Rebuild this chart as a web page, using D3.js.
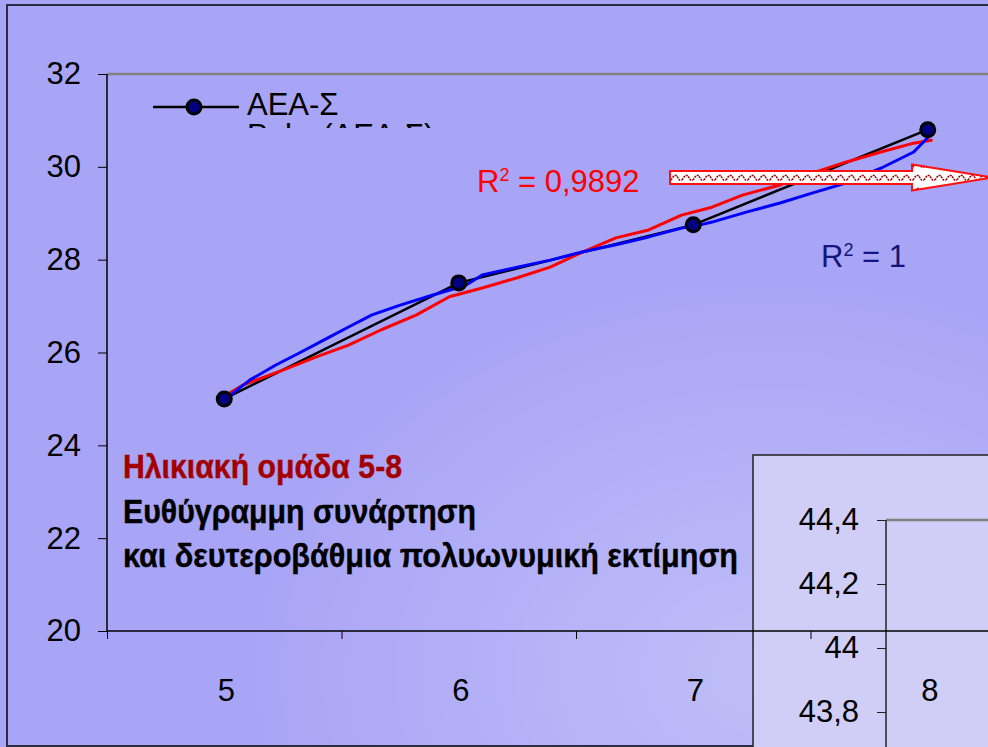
<!DOCTYPE html>
<html><head><meta charset="utf-8">
<script src="https://cdn.jsdelivr.net/npm/d3@7"></script>
<style>html,body{margin:0;padding:0;background:#aaa6f8;overflow:hidden}svg{display:block}</style>
</head><body>
<script>
// ---- data ----
const categories = ["5", "6", "7", "8"];
const aeaValues = [25.0, 27.5, 28.75, 30.8];
const yTicks = [20, 22, 24, 26, 28, 30, 32];
// quadratic polynomial trend (red): [x, y]
const polyRedX = [5.01, 5.08, 5.25, 5.39, 5.53, 5.67, 5.82, 5.96, 6.10, 6.25, 6.39, 6.53, 6.67, 6.81, 6.95, 7.08, 7.21, 7.37, 7.51, 7.65, 7.80, 7.94, 8.02];
const polyRedY = [25.09, 25.30, 25.62, 25.90, 26.16, 26.49, 26.81, 27.20, 27.39, 27.61, 27.84, 28.17, 28.47, 28.64, 28.96, 29.13, 29.39, 29.61, 29.87, 30.10, 30.32, 30.51, 30.58];
// cubic polynomial trend (blue)
const polyBlueX = [5.01, 5.11, 5.22, 5.32, 5.44, 5.53, 5.63, 5.75, 5.89, 6.03, 6.10, 6.25, 6.39, 6.53, 6.67, 6.81, 6.95, 7.03, 7.08, 7.23, 7.37, 7.51, 7.65, 7.80, 7.94, 8.01];
const polyBlueY = [25.02, 25.41, 25.73, 25.99, 26.31, 26.55, 26.81, 27.02, 27.24, 27.45, 27.67, 27.84, 27.99, 28.17, 28.32, 28.49, 28.68, 28.75, 28.81, 29.03, 29.22, 29.44, 29.65, 29.97, 30.32, 30.68];
const insetTicks = [43.8, 44.0, 44.2, 44.4];
const legendLabels = ["ΑΕΑ-Σ", "Poly. (ΑΕΑ-Σ)"];
const r2Red = "0,9892";
const r2Blue = "1";
const titleLines = ["Ηλικιακή ομάδα 5-8", "Ευθύγραμμη συνάρτηση", "και δευτεροβάθμια πολυωνυμική εκτίμηση"];

const W = 988, H = 747;
const FONT = "'Liberation Sans', Arial, sans-serif";
const svg = d3.select("body").append("svg").attr("width", W).attr("height", H);
const defs = svg.append("defs");

// background
svg.append("rect").attr("width", W).attr("height", H).attr("fill", "#a8a4f6");
const rg = defs.append("radialGradient").attr("id", "glow").attr("cx", 0.78).attr("cy", 0.9).attr("r", 0.55);
rg.append("stop").attr("offset", "0").attr("stop-color", "#ffffff").attr("stop-opacity", 0.28);
rg.append("stop").attr("offset", "1").attr("stop-color", "#ffffff").attr("stop-opacity", 0);
svg.append("rect").attr("width", W).attr("height", H).attr("fill", "url(#glow)");

// outer frame
svg.append("path").attr("d", "M1000,5 H7 V746 H1000").attr("fill", "none").attr("stroke", "#2b2b45").attr("stroke-width", 2);

// scales
const plotL = 107, plotT = 74, plotB = 631, bandW = 234.5;
const xBand = d3.scaleBand().domain(categories).range([plotL, plotL + bandW * categories.length]);
const xLin = d3.scaleLinear().domain([4.5, 8.5]).range([plotL, plotL + bandW * 4]);
const y = d3.scaleLinear().domain([20, 32]).range([plotB, plotT]);

// ---- inset panel (behind main axes) ----
const inset = svg.append("g");
inset.append("rect").attr("x", 753).attr("y", 455).attr("width", 260).attr("height", 310)
  .attr("fill", "#d0cef6").attr("stroke", "#222").attr("stroke-width", 1.5);
const yIn = d3.scaleLinear().domain([43.8, 44.4]).range([712, 520]);
inset.append("line").attr("x1", 886).attr("x2", 1000).attr("y1", 520).attr("y2", 520).attr("stroke", "#808080").attr("stroke-width", 2.5);
const insetAxis = d3.axisLeft(yIn).tickValues(insetTicks).tickSize(9).tickPadding(18)
  .tickFormat(d => d3.format(".1~f")(d).replace(".", ","));
const ia = inset.append("g").attr("transform", "translate(886,0)").call(insetAxis);
ia.select(".domain").attr("d", "M0,520 V760").attr("stroke", "#222").attr("stroke-width", 1.5);
ia.selectAll(".tick line").attr("stroke", "#222");
ia.selectAll("text").attr("font-family", FONT).attr("font-size", 31).attr("fill", "#000");

// ---- main axes ----
svg.append("line").attr("x1", plotL).attr("x2", 1000).attr("y1", plotT).attr("y2", plotT).attr("stroke", "#808080").attr("stroke-width", 2.5);
const yAxis = d3.axisLeft(y).tickValues(yTicks).tickSize(9).tickPadding(17).tickFormat(d3.format("d"));
const ya = svg.append("g").attr("transform", `translate(${plotL},0)`).call(yAxis);
ya.select(".domain").attr("d", `M0,${plotT} V${plotB}`).attr("stroke", "#000").attr("stroke-width", 1.5);
ya.selectAll(".tick line").attr("stroke", "#000");
ya.selectAll("text").attr("font-family", FONT).attr("font-size", 31).attr("fill", "#000");

const xTickAxis = d3.axisBottom(xLin).tickValues([4.5, 5.5, 6.5, 7.5, 8.5]).tickSize(8).tickFormat("");
const xa = svg.append("g").attr("transform", `translate(0,${plotB})`).call(xTickAxis);
xa.select(".domain").attr("d", `M${plotL},0 H1000`).attr("stroke", "#000").attr("stroke-width", 1.5);
xa.selectAll(".tick line").attr("stroke", "#000");
const xLabAxis = d3.axisBottom(xBand).tickSize(0).tickPadding(48);
const xl = svg.append("g").attr("transform", `translate(2,${plotB})`).call(xLabAxis);
xl.select(".domain").remove();
xl.selectAll("text").attr("font-family", FONT).attr("font-size", 31).attr("fill", "#000");

// ---- series ----
const lineGen = d3.line().x(d => xLin(d[0])).y(d => y(d[1]));
const redPts = polyRedX.map((v, i) => [v, polyRedY[i]]);
const bluePts = polyBlueX.map((v, i) => [v, polyBlueY[i]]);
const aeaPts = categories.map((c, i) => [+c, aeaValues[i]]);
svg.append("path").attr("d", lineGen(aeaPts)).attr("fill", "none").attr("stroke", "#000").attr("stroke-width", 2.5);
svg.append("path").attr("d", lineGen(redPts)).attr("fill", "none").attr("stroke", "#ff0000").attr("stroke-width", 3).attr("stroke-linejoin", "round");
svg.append("path").attr("d", lineGen(bluePts)).attr("fill", "none").attr("stroke", "#0000ff").attr("stroke-width", 3).attr("stroke-linejoin", "round");
svg.selectAll("circle.pt").data(aeaPts).join("circle").attr("class", "pt")
  .attr("cx", d => xLin(d[0])).attr("cy", d => y(d[1])).attr("r", 7)
  .attr("fill", "#000080").attr("stroke", "#000").attr("stroke-width", 3);

// ---- legend (clipped) ----
defs.append("clipPath").attr("id", "legclip").append("rect").attr("x", 110).attr("y", 76).attr("width", 500).attr("height", 52);
const leg = svg.append("g").attr("clip-path", "url(#legclip)");
leg.append("line").attr("x1", 153).attr("x2", 239).attr("y1", 107).attr("y2", 107).attr("stroke", "#000").attr("stroke-width", 2.5);
leg.append("circle").attr("cx", 194).attr("cy", 107).attr("r", 7).attr("fill", "#000080").attr("stroke", "#000").attr("stroke-width", 3);
leg.selectAll("text.lg").data(legendLabels).join("text").attr("class", "lg")
  .attr("x", 247).attr("y", (d, i) => 115 + i * 31).text(d => d)
  .attr("font-family", FONT).attr("font-size", 31).attr("fill", "#000");

// ---- R² labels ----
function r2(x, yb, val, color) {
  const t = svg.append("text").attr("x", x).attr("y", yb).attr("font-family", FONT).attr("font-size", 31).attr("fill", color);
  t.append("tspan").text("R");
  t.append("tspan").text("2").attr("font-size", 18).attr("dy", -11);
  t.append("tspan").text(" = " + val).attr("dy", 11);
}
r2(477, 192, r2Red, "#ff0000");
r2(821, 267, r2Blue, "#14147a");

// ---- arrow ----
const pat = defs.append("pattern").attr("id", "zig").attr("patternUnits", "userSpaceOnUse")
  .attr("x", 0).attr("y", 171).attr("width", 11).attr("height", 13);
pat.append("rect").attr("width", 11).attr("height", 13).attr("fill", "#fff");
pat.append("path").attr("d", "M0,9 L3,4.5 L5.5,4.5 L8.5,9 L11,9").attr("fill", "none")
  .attr("stroke", "#a00000").attr("stroke-width", 1.5).attr("stroke-dasharray", "2,1");
svg.append("path")
  .attr("d", "M670,171 H912 V164.5 L992,177.5 L912,190.5 V184 H670 Z")
  .attr("fill", "url(#zig)").attr("stroke", "#ff1010").attr("stroke-width", 2);

// ---- text block ----
const lens = [279, 353, 615];
svg.selectAll("text.title").data(titleLines).join("text").attr("class", "title")
  .attr("x", 123).attr("y", (d, i) => 478 + i * 44.5).text(d => d)
  .attr("font-family", "'Liberation Sans Narrow', 'Liberation Sans', Arial, sans-serif")
  .attr("font-weight", "bold").attr("font-size", 33)
  .attr("fill", (d, i) => i === 0 ? "#a30000" : "#000")
  .attr("stroke", (d, i) => i === 0 ? "#a30000" : "#000").attr("stroke-width", 0.4)
  .attr("textLength", (d, i) => lens[i]).attr("lengthAdjust", "spacingAndGlyphs");
</script>
</body></html>
